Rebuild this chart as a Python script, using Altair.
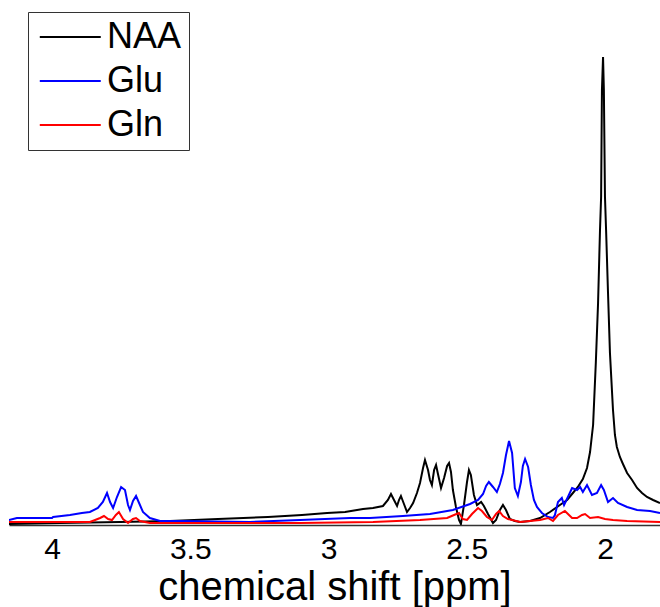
import altair as alt
import pandas as pd

# chemical shift (ppm) and intensity (a.u.)
naa_ppm = [4.156, 3.971, 3.754, 3.573, 3.400, 3.219, 3.096, 3.005, 2.940, 2.875, 2.839, 2.803,
           2.785, 2.774, 2.763, 2.752, 2.745, 2.738, 2.727, 2.716, 2.705, 2.694, 2.680, 2.669,
           2.658, 2.651, 2.640, 2.633, 2.626, 2.618, 2.611, 2.604, 2.593, 2.582, 2.571, 2.564,
           2.557, 2.550, 2.539, 2.528, 2.521, 2.510, 2.499, 2.492, 2.485, 2.474, 2.463, 2.448,
           2.438, 2.423, 2.405, 2.394, 2.380, 2.369, 2.358, 2.344, 2.326, 2.307, 2.271, 2.235,
           2.199, 2.163, 2.137, 2.116, 2.098, 2.080, 2.065, 2.054, 2.043, 2.033, 2.025, 2.018,
           2.014, 2.011, 2.007, 2.004, 2.000, 1.996, 1.989, 1.982, 1.971, 1.964, 1.957, 1.946,
           1.935, 1.920, 1.902, 1.884, 1.866, 1.848, 1.826, 1.801]
naa_int = [1, 2, 3, 4, 6, 8, 10, 12, 13, 16, 17, 19,
           25, 31, 25, 19, 25, 29, 21, 13, 17, 22, 32, 42,
           57, 65, 55, 45, 40, 55, 60, 51, 37, 47, 59, 62,
           53, 35, 18, 5, 1, 20, 43, 55, 50, 30, 20, 23,
           19, 11, 2, 5, 15, 20, 15, 6, 4, 3, 4, 7,
           13, 20, 25, 32, 38, 46, 57, 73, 100, 163, 222, 295,
           328, 435, 468, 435, 328, 295, 232, 172, 115, 90, 78, 68,
           61, 52, 45, 37, 32, 28, 25, 22]

glu_ppm = [4.156, 4.127, 4.000, 3.996, 3.935, 3.892, 3.863, 3.834, 3.816, 3.801, 3.790, 3.779,
           3.765, 3.750, 3.736, 3.725, 3.718, 3.707, 3.696, 3.685, 3.671, 3.646, 3.609, 3.537,
           3.284, 3.103, 2.922, 2.850, 2.731, 2.633, 2.550, 2.488, 2.459, 2.441, 2.430, 2.420,
           2.405, 2.391, 2.380, 2.369, 2.358, 2.347, 2.336, 2.326, 2.315, 2.304, 2.297, 2.289,
           2.278, 2.268, 2.257, 2.246, 2.228, 2.206, 2.188, 2.181, 2.170, 2.156, 2.148, 2.134,
           2.119, 2.101, 2.090, 2.080, 2.065, 2.047, 2.029, 2.014, 2.004, 1.989, 1.971, 1.953,
           1.920, 1.884, 1.837, 1.801]
glu_int = [5, 7, 7, 8, 10, 12, 13, 17, 23, 32, 23, 17,
           28, 38, 35, 20, 15, 24, 29, 22, 13, 7, 4, 4,
           3, 5, 7, 7, 9, 11, 15, 21, 25, 31, 39, 43,
           38, 33, 41, 52, 70, 84, 72, 37, 29, 43, 59, 66,
           58, 40, 25, 18, 12, 8, 7, 10, 23, 27, 20, 28,
           37, 35, 38, 33, 40, 30, 32, 40, 35, 23, 27, 22,
           18, 15, 14, 12]

gln_ppm = [4.156, 3.863, 3.844, 3.826, 3.812, 3.797, 3.783, 3.769, 3.758, 3.743, 3.725, 3.707,
           3.696, 3.682, 3.646, 3.103, 2.839, 2.669, 2.571, 2.546, 2.528, 2.514, 2.499, 2.481,
           2.459, 2.445, 2.427, 2.409, 2.394, 2.383, 2.369, 2.351, 2.307, 2.235, 2.206, 2.188,
           2.170, 2.145, 2.119, 2.101, 2.083, 2.072, 2.054, 2.025, 2.000, 1.971, 1.920, 1.801]
gln_int = [3, 3, 5, 7, 9, 6, 5, 10, 13, 6, 2, 6,
           7, 4, 2, 2, 3, 5, 7, 10, 12, 6, 5, 11,
           17, 14, 8, 5, 11, 14, 9, 6, 3, 5, 7, 4,
           10, 14, 7, 7, 10, 11, 7, 8, 6, 5, 4, 3]

series_names = ["NAA", "Glu", "Gln"]
series_colors = ["#000000", "#0000ff", "#ff0000"]
tick_values = [4, 3.5, 3, 2.5, 2]

frames = []
for name, xs, ys in [("NAA", naa_ppm, naa_int), ("Glu", glu_ppm, glu_int), ("Gln", gln_ppm, gln_int)]:
    frames.append(pd.DataFrame({"ppm": xs, "intensity": ys, "metabolite": name}))
df = pd.concat(frames, ignore_index=True)

FONT = "Liberation Sans"

chart = alt.Chart(df).mark_line(strokeWidth=2, clip=True).encode(
    x=alt.X("ppm:Q",
            scale=alt.Scale(domain=[1.801, 4.1555], reverse=True, nice=False, zero=False),
            axis=alt.Axis(title="chemical shift [ppm]", values=tick_values, format="~g",
                          grid=False, ticks=False, labelFontSize=30, titleFontSize=40,
                          labelFont=FONT, titleFont=FONT, labelColor="#000000",
                          titleColor="#000000", titleFontWeight="normal",
                          domainColor="#333333", domainWidth=1.5,
                          labelPadding=9, titlePadding=3, labelFlush=False)),
    y=alt.Y("intensity:Q", scale=alt.Scale(domain=[0, 520], nice=False), axis=None),
    color=alt.Color("metabolite:N",
                    scale=alt.Scale(domain=series_names, range=series_colors),
                    sort=series_names,
                    legend=alt.Legend(title=None, orient="none", legendX=19, legendY=7,
                                      strokeColor="#333333", fillColor="#ffffff",
                                      padding=7, symbolType="M-1.30,0H4.70", symbolSize=413,
                                      symbolStrokeWidth=2, labelFontSize=36, labelFont=FONT,
                                      labelColor="#000000", labelOffset=36, rowPadding=8)),
    order=alt.Order("ppm:Q"),
).properties(
    width=651, height=520,
    padding={"left": 9, "top": 5, "right": 0, "bottom": 82},
    autosize=alt.AutoSizeParams(type="none"),
).configure_view(stroke=None)

chart.save("out.html", embed_options={"renderer": "svg", "actions": False})
